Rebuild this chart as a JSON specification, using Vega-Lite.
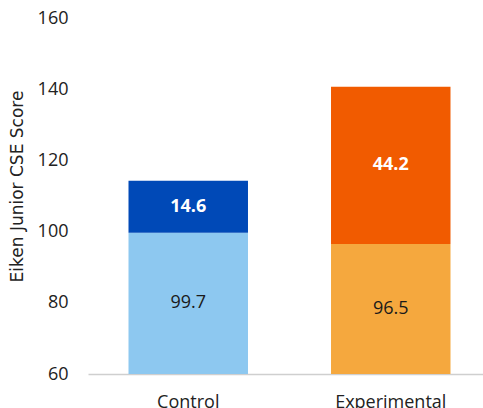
{
  "$schema": "https://vega.github.io/schema/vega-lite/v6.json",
  "width": 403,
  "height": 356,
  "autosize": "none",
  "padding": {"left": 88, "top": 18, "right": 0, "bottom": 34},
  "background": "white",
  "config": {
    "view": {"stroke": null},
    "font": "Open Sans"
  },
  "data": {
    "values": [
      {"group": "Control", "part": "Control base", "order": 1, "score": 99.7},
      {"group": "Control", "part": "Control gain", "order": 2, "score": 14.6},
      {"group": "Experimental", "part": "Experimental base", "order": 1, "score": 96.5},
      {"group": "Experimental", "part": "Experimental gain", "order": 2, "score": 44.2}
    ]
  },
  "transform": [
    {"stack": "score", "groupby": ["group"], "sort": [{"field": "order"}], "as": ["lo", "hi"]},
    {"calculate": "(max(datum.lo, 60) + datum.hi) / 2", "as": "mid"}
  ],
  "encoding": {
    "x": {
      "field": "group",
      "type": "nominal",
      "sort": ["Control", "Experimental"],
      "scale": {"paddingInner": 0.41, "paddingOuter": 0.2},
      "axis": {
        "title": null,
        "labelAngle": 0,
        "labelFontSize": 18,
        "labelColor": "#222222",
        "labelPadding": 19,
        "ticks": false,
        "domainColor": "#cfcfcf",
        "domainWidth": 1.5
      }
    }
  },
  "layer": [
    {
      "mark": {"type": "bar", "clip": true},
      "encoding": {
        "y": {
          "field": "lo",
          "type": "quantitative",
          "scale": {"domain": [60, 160], "nice": false, "zero": false},
          "axis": {
            "title": "Eiken Junior CSE Score",
            "titleFont": "DejaVu Sans",
            "titleFontSize": 17,
            "titleFontWeight": "normal",
            "titleColor": "#222222",
            "titleX": -71,
            "titleY": 168,
            "titleBaseline": "middle",
            "titleAlign": "center",
            "titleAngle": 270,
            "values": [60, 80, 100, 120, 140, 160],
            "labelFontSize": 18,
            "labelColor": "#222222",
            "labelPadding": 20,
            "ticks": false,
            "domain": false,
            "grid": false
          }
        },
        "y2": {"field": "hi"},
        "color": {
          "field": "part",
          "type": "nominal",
          "legend": null,
          "scale": {
            "domain": ["Control base", "Control gain", "Experimental base", "Experimental gain"],
            "range": ["#8DC8F0", "#0049B7", "#F5A83E", "#F15B00"]
          }
        }
      }
    },
    {
      "transform": [{"filter": "datum.order === 1"}],
      "mark": {"type": "text", "fontSize": 18, "baseline": "middle", "color": "#1a1a1a"},
      "encoding": {
        "y": {"field": "mid", "type": "quantitative"},
        "text": {"field": "score", "type": "quantitative", "format": ".1f"}
      }
    },
    {
      "transform": [{"filter": "datum.order === 2"}],
      "mark": {"type": "text", "fontSize": 18, "fontWeight": "bold", "baseline": "middle", "color": "#ffffff"},
      "encoding": {
        "y": {"field": "mid", "type": "quantitative"},
        "text": {"field": "score", "type": "quantitative", "format": ".1f"}
      }
    }
  ]
}
